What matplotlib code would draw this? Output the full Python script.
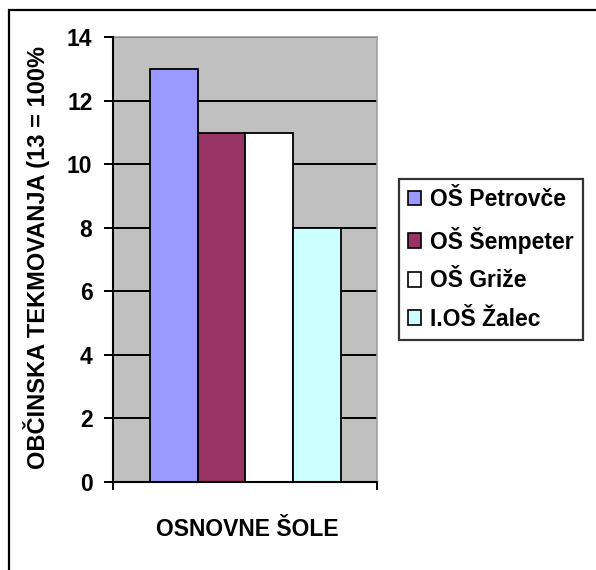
import matplotlib
matplotlib.use("Agg")
import matplotlib.pyplot as plt
from matplotlib.patches import Rectangle
import numpy as np

plt.rcParams['font.family'] = ['Liberation Sans', 'DejaVu Sans']
plt.rcParams['font.weight'] = 'bold'

schools = ["OŠ Petrovče", "OŠ Šempeter", "OŠ Griže", "I.OŠ Žalec"]
values = [13, 11, 11, 8]
colors = ["#9999FF", "#993366", "#FFFFFF", "#CCFFFF"]
yticks = [0, 2, 4, 6, 8, 10, 12, 14]
ylabel = "OBČINSKA TEKMOVANJA (13 = 100%"
xlabel = "OSNOVNE ŠOLE"

fig = plt.figure(figsize=(5.96, 5.70), dpi=100)
fig.patch.set_facecolor("white")

# outer chart border (right/bottom edges lie outside the picture)
fig.patches.append(Rectangle((8.5/596, -0.05), 1.2, 1 - 9.5/570 + 0.05,
                             transform=fig.transFigure, fill=False,
                             edgecolor="black", linewidth=1.6, zorder=0))

ax = fig.add_axes([113.3/596, 1 - 481.7/570, 264.2/596, 444.4/570])
ax.set_facecolor("#C0C0C0")
ax.set_xlim(0, 1)
ax.set_ylim(0, 14)

n = len(values)
group = 0.725
w = group / n
start = 0.5 - group / 2
for i, (v, c, s) in enumerate(zip(values, colors, schools)):
    ax.bar(start + w * (i + 0.5), v, width=w, color=c, edgecolor="black",
           linewidth=1.3, label=s, zorder=3)

ax.set_yticks(yticks)
ax.set_yticklabels([str(t) for t in yticks], fontsize=16.5, fontweight="bold")
ax.yaxis.grid(True, color="black", linewidth=1.4, zorder=1)
ax.set_axisbelow(True)
ax.tick_params(axis="y", direction="out", length=6.5, width=1.4, pad=8.5)
ax.set_xticks([0, 1])
ax.set_xticklabels(["", ""])
ax.tick_params(axis="x", direction="out", length=6, width=1.4)

for sp in ["left", "bottom"]:
    ax.spines[sp].set_color("black")
    ax.spines[sp].set_linewidth(1.5)
    ax.spines[sp].set_zorder(4)
for sp in ["top", "right"]:
    ax.spines[sp].set_color("#A0A0A0")
    ax.spines[sp].set_linewidth(1.2)

fig.text(247/596, 1 - 530/570, xlabel, ha="center", va="center",
         fontsize=16.5, fontweight="bold")
fig.text(37/596, 1 - 257/570, ylabel, ha="center", va="center",
         rotation=90, fontsize=17, fontweight="bold")

leg = fig.legend(loc="upper left", bbox_to_anchor=(399/596, 1 - 179/570),
                 bbox_transform=fig.transFigure, borderaxespad=0,
                 frameon=True, fancybox=False,
                 handlelength=0.57, handleheight=0.61, handletextpad=0.37,
                 labelspacing=0.68, borderpad=0.4,
                 prop={"weight": "bold", "size": 16.5})
leg.get_frame().set_edgecolor("black")
leg.get_frame().set_linewidth(1.6)
for p in leg.get_patches():
    p.set_linewidth(1.2)

fig.savefig("out.png", dpi=100, facecolor="white")
